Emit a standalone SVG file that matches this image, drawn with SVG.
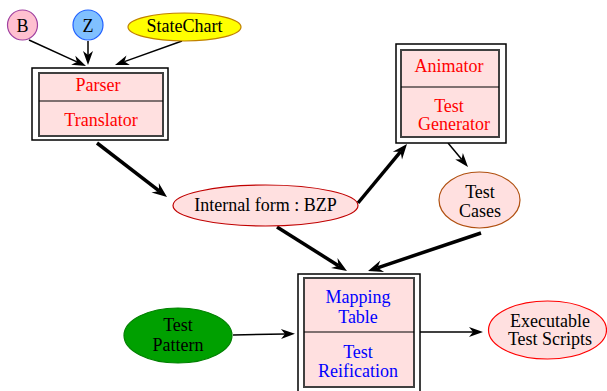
<svg xmlns="http://www.w3.org/2000/svg" width="607" height="391" viewBox="0 0 607 391">
<defs>
<marker id="ah" markerUnits="userSpaceOnUse" markerWidth="14" markerHeight="10" refX="4" refY="5" orient="auto" overflow="visible"><path d="M0,0 L14,5 L0,10 L4,5 z" fill="#000"/></marker>
<marker id="ahT" markerUnits="userSpaceOnUse" markerWidth="15" markerHeight="12" refX="5" refY="6" orient="auto" overflow="visible"><path d="M0,0 L15,6 L0,12 L5,6 z" fill="#000"/></marker>
<style>
text{font-family:"Liberation Serif","Times New Roman",serif;font-size:18px;text-anchor:middle;fill:#000}
.red{fill:#ff0000}
.blue{fill:#0000ff}
.outer{fill:#fff;stroke:#000;stroke-width:1.5}
.inner{fill:#ffe0e0;stroke:#404040;stroke-width:2}
.div{stroke:#000;stroke-width:1.2}
.thin{fill:none;stroke:#000;stroke-width:1.5;marker-end:url(#ah)}
.thick{fill:none;stroke:#000;stroke-width:3.5;marker-end:url(#ahT)}
</style>
</defs>
<g id="connectors">
<path class="thin" d="M29,40 L76.9,61.9"/>
<path class="thin" d="M88,41 L88,55"/>
<path class="thin" d="M182,41 L124.4,61.6"/>
<path class="thin" d="M448,143 L461.6,159.3"/>
<path class="thin" d="M233,335 L285,334"/>
<path class="thin" d="M420,332 L473,332"/>
<path class="thick" d="M97,143 L159.1,190.9"/>
<path class="thick" d="M358,203 L400.6,151.7"/>
<path class="thick" d="M277,227 L338.5,265.7"/>
<path class="thick" d="M481,233 L377.5,267.8"/>
</g>
<g id="B"><circle cx="22.5" cy="25" r="15" fill="#ffc0d0" stroke="#a040a0" stroke-width="1.2"/><text x="22.5" y="31.5">B</text></g>
<g id="Z"><circle cx="88" cy="25" r="15" fill="#80c0ff" stroke="#2060ff" stroke-width="1.2"/><text x="88" y="31.5">Z</text></g>
<g id="StateChart"><ellipse cx="184.5" cy="27" rx="56.5" ry="14" fill="#ffff00" stroke="#c08000" stroke-width="1.2"/><text x="184.5" y="32">StateChart</text></g>
<g id="ParserTranslator">
<rect class="outer" x="32" y="68" width="136" height="72"/>
<rect class="inner" x="39" y="73" width="124" height="63"/>
<line class="div" x1="39" y1="101" x2="163" y2="101"/>
<text class="red" x="98" y="91">Parser</text>
<text class="red" x="101" y="126">Translator</text>
</g>
<g id="AnimatorGenerator">
<rect class="outer" x="396" y="44" width="110" height="99"/>
<rect class="inner" x="401" y="50" width="98" height="87"/>
<line class="div" x1="401" y1="87" x2="499" y2="87"/>
<text class="red" x="449" y="72">Animator</text>
<text class="red" x="449" y="112">Test</text>
<text class="red" x="454" y="130">Generator</text>
</g>
<g id="TestCases"><ellipse cx="479.5" cy="200" rx="40.5" ry="28" fill="#ffe0e0" stroke="#b05010" stroke-width="1.2"/><text x="480" y="198">Test</text><text x="480" y="217">Cases</text></g>
<g id="InternalForm"><ellipse cx="265.5" cy="205.5" rx="92.5" ry="20.5" fill="#ffe0e0" stroke="#c00000" stroke-width="1.2"/><text x="265.5" y="211">Internal form : BZP</text></g>
<g id="MappingReification">
<rect class="outer" x="298" y="274" width="122" height="122"/>
<rect class="inner" x="304" y="278" width="110" height="109"/>
<line class="div" x1="304" y1="332" x2="414" y2="332"/>
<text class="blue" x="358" y="303">Mapping</text>
<text class="blue" x="358" y="323">Table</text>
<text class="blue" x="358" y="358">Test</text>
<text class="blue" x="358" y="377">Reification</text>
</g>
<g id="TestPattern"><ellipse cx="178" cy="335.5" rx="54" ry="27.5" fill="#00a000" stroke="#008000" stroke-width="1.2"/><text x="178" y="331">Test</text><text x="178" y="351">Pattern</text></g>
<g id="Executable"><ellipse cx="547.5" cy="330" rx="59" ry="29" fill="#ffe0e0" stroke="#ff0000" stroke-width="1.2"/><text x="550" y="327">Executable</text><text x="550" y="345">Test Scripts</text></g>
</svg>
